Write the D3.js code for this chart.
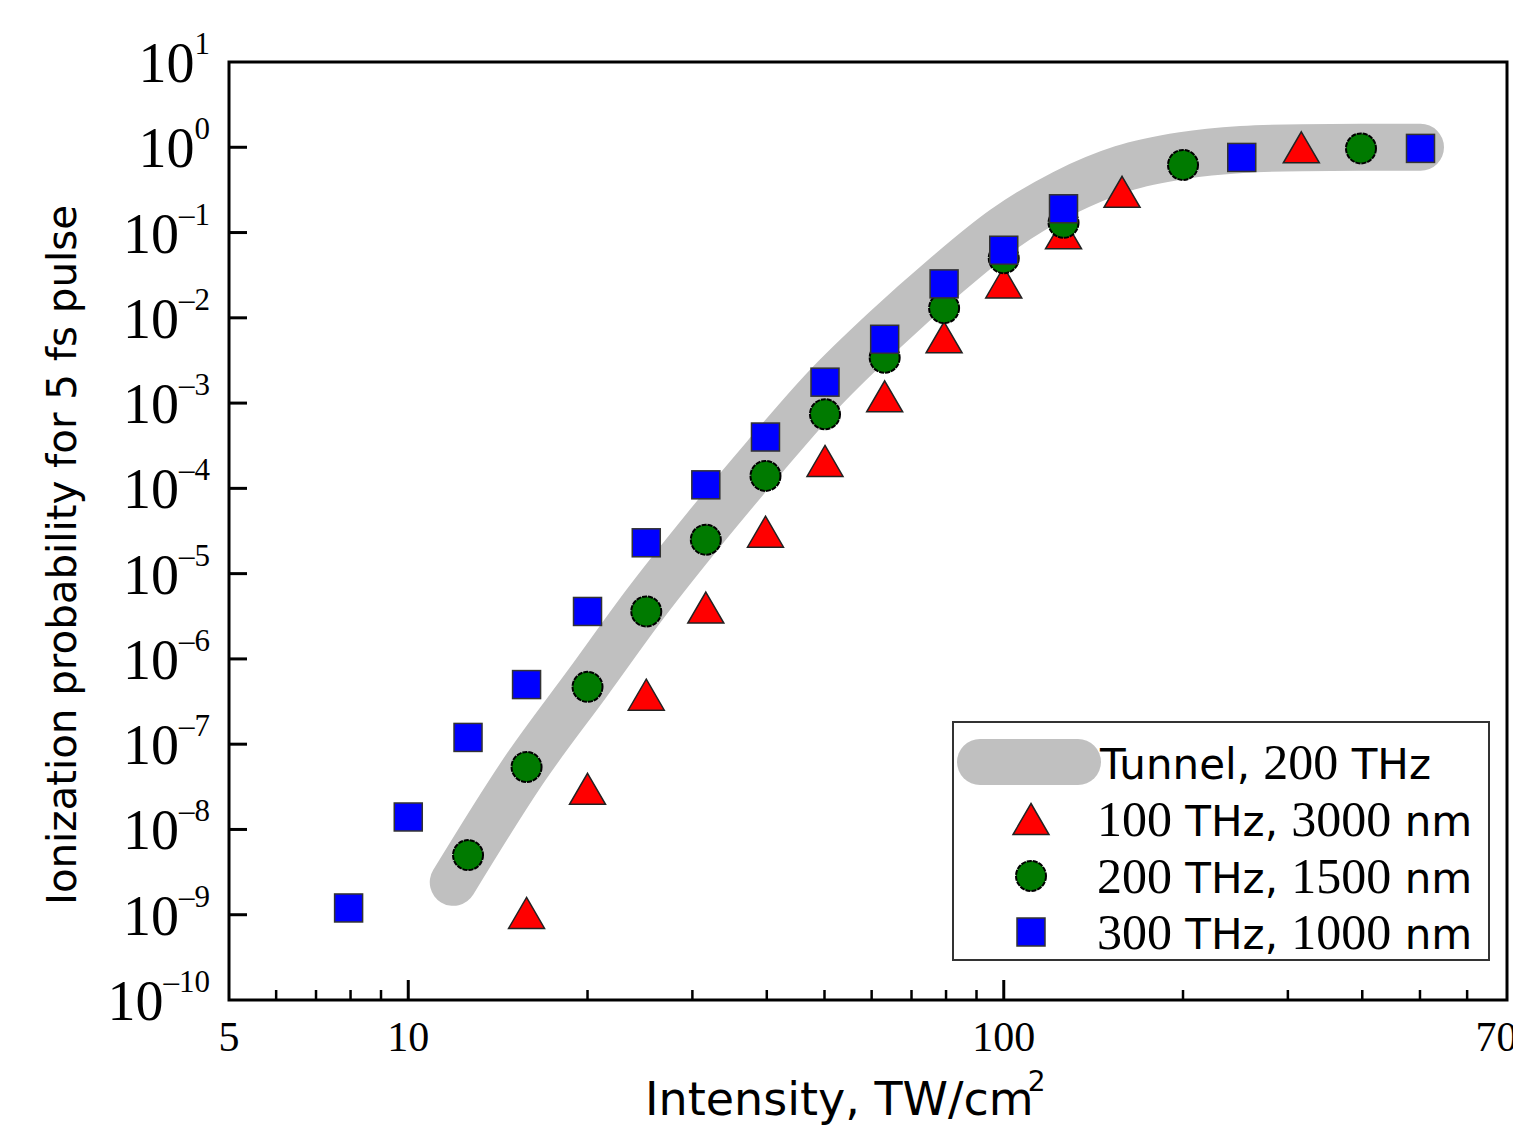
<!DOCTYPE html>
<html>
<head>
<meta charset="utf-8">
<script src="https://d3js.org/d3.v7.min.js"></script>
<style>
  body { margin: 0; background: #fff; }
  svg { display: block; }
</style>
</head>
<body>
<div id="chart"></div>
<script>
var width = 1513,
	height = 1126;

// intensity, TW/cm2 (1 dB steps)
var blueX = [7.94, 10, 12.6, 15.8, 20, 25.1, 31.6, 39.8, 50.1, 63.1, 79.4, 100, 126, 251, 501];
var blueY = [1.2e-9, 1.4e-8, 1.2e-7, 5.0e-7, 3.6e-6, 2.3e-5, 1.1e-4, 4.0e-4, 1.76e-3, 5.6e-3, 2.5e-2, 6.2e-2, 0.19, 0.76, 0.97];

var greenX = [12.6, 15.8, 20, 25.1, 31.6, 39.8, 50.1, 63.1, 79.4, 100, 126, 200, 398];
var greenY = [5.0e-9, 5.4e-8, 4.7e-7, 3.6e-6, 2.5e-5, 1.4e-4, 7.4e-4, 3.4e-3, 1.3e-2, 5.0e-2, 0.13, 0.62, 0.97];

var redX = [15.8, 20, 25.1, 31.6, 39.8, 50.1, 63.1, 79.4, 100, 126, 158, 316];
var redY = [1.05e-9, 3.0e-8, 3.8e-7, 4.0e-6, 3.1e-5, 2.1e-4, 1.2e-3, 5.9e-3, 2.6e-2, 9.8e-2, 0.30, 1.0];

// tunnel curve (grey band)
var tunnelX = [11.9, 15.8, 20, 25.1, 31.6, 39.8, 50.1, 63.1, 79.4, 100, 126, 158, 200, 251, 316, 398, 501];
var tunnelY = [2.4e-9, 5.5e-8, 5.2e-7, 4.6e-6, 3.5e-5, 2.4e-4, 1.5e-3, 7.2e-3, 3.0e-2, 0.11, 0.29, 0.56, 0.8, 0.94, 0.99, 1.0, 1.0];

var xMajorTicks = [10, 100];
var xMinorTicks = [6, 7, 8, 9, 20, 30, 40, 50, 60, 70, 80, 90, 200, 300, 400, 500, 600];
var xTickLabels = [5, 10, 100, 700];
var yExponents = [1, 0, -1, -2, -3, -4, -5, -6, -7, -8, -9, -10];

var legendLabels = ["Tunnel, 200 THz", "100 THz, 3000 nm", "200 THz, 1500 nm", "300 THz, 1000 nm"];

var serif = "'Liberation Serif', 'Times New Roman', serif";
var sans = "'DejaVu Sans', Verdana, sans-serif";

var svg = d3.select("#chart").append("svg")
	.attr("width", width)
	.attr("height", height);

var x = d3.scaleLog().domain([5, 700]).range([229, 1507]);
var y = d3.scaleLog().domain([1e-10, 10]).range([1000, 62]);

// tunnel band
var band = d3.line()
	.x(function(d) { return x(d[0]); })
	.y(function(d) { return y(d[1]); })
	.curve(d3.curveMonotoneX);

svg.append("path")
	.datum(d3.zip(tunnelX, tunnelY))
	.attr("d", band)
	.attr("fill", "none")
	.attr("stroke", "#c0c0c0")
	.attr("stroke-width", 47)
	.attr("stroke-linecap", "round")
	.attr("stroke-linejoin", "round");

function drawMarker(g, type, cx, cy) {
	if(type == "triangle") {
		var w = 18, h = 31;
		return g.append("path")
			.attr("d", "M" + cx + "," + (cy - h/2) + "L" + (cx + w) + "," + (cy + h/2) + "L" + (cx - w) + "," + (cy + h/2) + "Z")
			.attr("fill", "#ff0000")
			.attr("stroke", "#222")
			.attr("stroke-width", 1.5);
	}
	else if(type == "circle") {
		return g.append("circle")
			.attr("cx", cx)
			.attr("cy", cy)
			.attr("r", 15)
			.attr("fill", "#007a00")
			.attr("stroke", "#000")
			.attr("stroke-width", 2)
			.attr("stroke-dasharray", "5,1");
	}
	else {
		return g.append("rect")
			.attr("x", cx - 14)
			.attr("y", cy - 14)
			.attr("width", 28)
			.attr("height", 28)
			.attr("fill", "#0000ff")
			.attr("stroke", "#333")
			.attr("stroke-width", 1.5);
	}
}

var marks = svg.append("g");
redX.forEach(function(d, i) { drawMarker(marks, "triangle", x(d), y(redY[i])); });
greenX.forEach(function(d, i) { drawMarker(marks, "circle", x(d), y(greenY[i])); });
blueX.forEach(function(d, i) { drawMarker(marks, "square", x(d), y(blueY[i])); });

// frame
svg.append("rect")
	.attr("x", x(5))
	.attr("y", y(10))
	.attr("width", x(700) - x(5))
	.attr("height", y(1e-10) - y(10))
	.attr("fill", "none")
	.attr("stroke", "#000")
	.attr("stroke-width", 3);

// x ticks
xMajorTicks.forEach(function(d) {
	svg.append("line")
		.attr("x1", x(d)).attr("x2", x(d))
		.attr("y1", y(1e-10)).attr("y2", y(1e-10) - 20)
		.attr("stroke", "#000").attr("stroke-width", 3);
});
xMinorTicks.forEach(function(d) {
	svg.append("line")
		.attr("x1", x(d)).attr("x2", x(d))
		.attr("y1", y(1e-10)).attr("y2", y(1e-10) - 10)
		.attr("stroke", "#000").attr("stroke-width", 2.5);
});
xTickLabels.forEach(function(d) {
	svg.append("text")
		.attr("x", x(d))
		.attr("y", 1051)
		.attr("text-anchor", "middle")
		.style("font-family", serif)
		.style("font-size", "42px")
		.attr("fill", "#000")
		.text(d);
});

// y ticks
yExponents.forEach(function(e) {
	var v = Math.pow(10, e);
	if(e > -10 && e < 1) {
		svg.append("line")
			.attr("x1", x(5)).attr("x2", x(5) + 18)
			.attr("y1", y(v)).attr("y2", y(v))
			.attr("stroke", "#000").attr("stroke-width", 3);
	}
	var t = svg.append("text")
		.attr("x", 210)
		.attr("y", y(v) + 20)
		.attr("text-anchor", "end")
		.style("font-family", serif)
		.style("font-size", "56px")
		.attr("fill", "#000");
	t.append("tspan").text("10");
	t.append("tspan")
		.attr("dy", -28)
		.style("font-size", "31px")
		.text(e < 0 ? "\u2013" + (-e) : e);
});

// axis titles
var xt = svg.append("text")
	.attr("x", 645)
	.attr("y", 1115)
	.style("font-family", sans)
	.style("font-size", "46px")
	.attr("fill", "#000");
xt.append("tspan").text("Intensity, TW/cm");
xt.append("tspan")
	.attr("dx", -6)
	.attr("dy", -24)
	.style("font-size", "28px")
	.text("2");

svg.append("text")
	.attr("transform", "translate(76,555) rotate(-90)")
	.attr("text-anchor", "middle")
	.style("font-family", sans)
	.style("font-size", "41px")
	.attr("textLength", 700)
	.attr("lengthAdjust", "spacingAndGlyphs")
	.attr("fill", "#000")
	.text("Ionization probability for 5 fs pulse");

// legend
var legend = svg.append("g");
legend.append("rect")
	.attr("x", 953)
	.attr("y", 722)
	.attr("width", 536)
	.attr("height", 238)
	.attr("fill", "#fff")
	.attr("stroke", "#333")
	.attr("stroke-width", 2);

var rowY = [762, 819, 876, 932];

legend.append("line")
	.attr("x1", 980).attr("x2", 1078)
	.attr("y1", rowY[0]).attr("y2", rowY[0])
	.attr("stroke", "#c0c0c0")
	.attr("stroke-width", 46)
	.attr("stroke-linecap", "round");
drawMarker(legend, "triangle", 1031, rowY[1]);
drawMarker(legend, "circle", 1031, rowY[2]);
drawMarker(legend, "square", 1031, rowY[3]);

function mixedText(g, str, tx, ty) {
	var t = g.append("text")
		.attr("x", tx)
		.attr("y", ty)
		.attr("fill", "#000");
	var parts = str.match(/[0-9]+|[^0-9]+/g);
	parts.forEach(function(p) {
		var isNum = /^[0-9]+$/.test(p);
		t.append("tspan")
			.style("font-family", isNum ? serif : sans)
			.style("font-size", isNum ? "50px" : "42px")
			.text(p);
	});
	return t;
}

legendLabels.forEach(function(s, i) {
	mixedText(legend, s, i == 0 ? 1100 : 1097, rowY[i] + 17);
});
</script>
</body>
</html>
